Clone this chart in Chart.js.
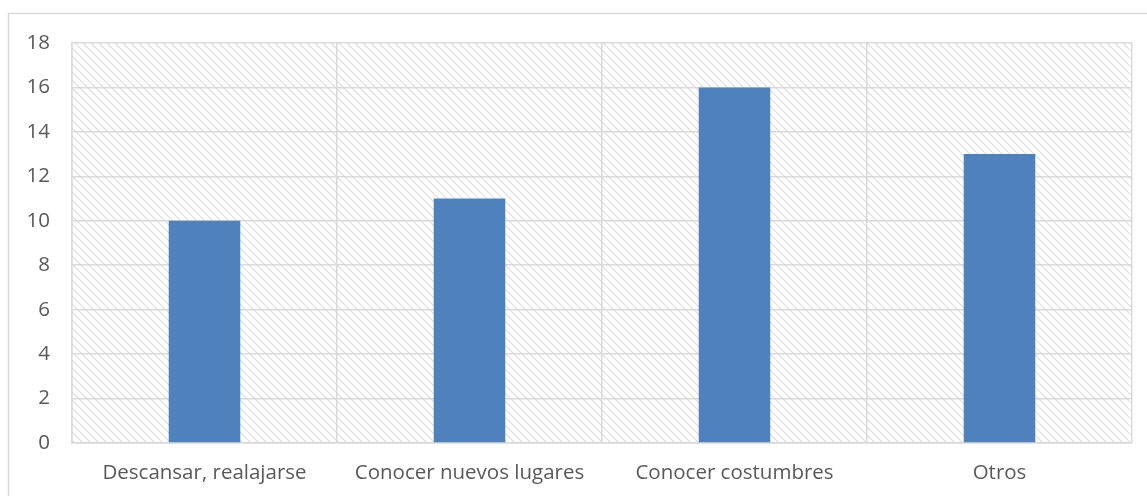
<!DOCTYPE html>
<html>
<head>
<meta charset="utf-8">
<script src="https://cdn.jsdelivr.net/npm/chart.js@4/dist/chart.umd.min.js"></script>
<style>
  html, body { margin: 0; padding: 0; background: #fff; }
  #wrap { width: 1147px; height: 496px; position: relative; }
</style>
</head>
<body>
<div id="wrap"><canvas id="chart"></canvas></div>
<script>
// Motivos del viaje
const categories = ['Descansar, realajarse', 'Conocer nuevos lugares', 'Conocer costumbres', 'Otros'];
const values = [10, 11, 16, 13];
const yTicks = [0, 2, 4, 6, 8, 10, 12, 14, 16, 18];

const gridColor = '#d9d9d9';
const textColor = '#595959';

// diagonal hatch for the plot area, like the Excel pattern fill
function makeHatch() {
    const c = document.createElement('canvas');
    c.width = 8; c.height = 8;
    const g = c.getContext('2d');
    g.fillStyle = '#fff';
    g.fillRect(0, 0, 8, 8);
    g.strokeStyle = '#dcdcdc';
    g.lineWidth = 1.1;
    g.beginPath();
    g.moveTo(-2, -2); g.lineTo(10, 10);
    g.moveTo(-2, 6); g.lineTo(2, 10);
    g.moveTo(6, -2); g.lineTo(10, 2);
    g.stroke();
    return c;
}

const backdrop = {
    id: 'backdrop',
    beforeDraw(chart) {
        const ctx = chart.ctx;
        const a = chart.chartArea;
        ctx.save();
        ctx.strokeStyle = gridColor;
        ctx.lineWidth = 1.5;
        ctx.strokeRect(8.5, 13.5, 1300, 600);
        ctx.fillStyle = ctx.createPattern(makeHatch(), 'repeat');
        ctx.fillRect(a.left, a.top, a.right - a.left, a.bottom - a.top);
        ctx.restore();
    }
};

new Chart(document.getElementById('chart'), {
    type: 'bar',
    data: {
        labels: categories,
        datasets: [{
            data: values,
            backgroundColor: '#4f81bd',
            borderWidth: 0,
            barPercentage: 0.27,
            categoryPercentage: 1
        }]
    },
    options: {
        responsive: true,
        maintainAspectRatio: false,
        animation: false,
        devicePixelRatio: 1,
        layout: { padding: { top: 43, right: 15, left: 0, bottom: 0 } },
        plugins: { legend: { display: false }, tooltip: { enabled: false } },
        scales: {
            x: {
                grid: { color: gridColor, lineWidth: 1.5, drawTicks: false, offset: true },
                border: { color: gridColor, width: 1.5 },
                ticks: { color: textColor, font: { family: 'Open Sans', size: 20.5 }, padding: 18, maxRotation: 0 },
                afterFit(s) { s.height = 53; }
            },
            y: {
                min: 0, max: 18,
                afterBuildTicks(s) { s.ticks = yTicks.map(v => ({ value: v })); },
                grid: { color: gridColor, lineWidth: 1.5, drawTicks: false },
                border: { color: gridColor, width: 1.5 },
                ticks: { color: textColor, font: { family: 'Open Sans', size: 20.5 }, padding: 22 },
                afterFit(s) { s.width = 72; }
            }
        }
    },
    plugins: [backdrop]
});
</script>
</body>
</html>
